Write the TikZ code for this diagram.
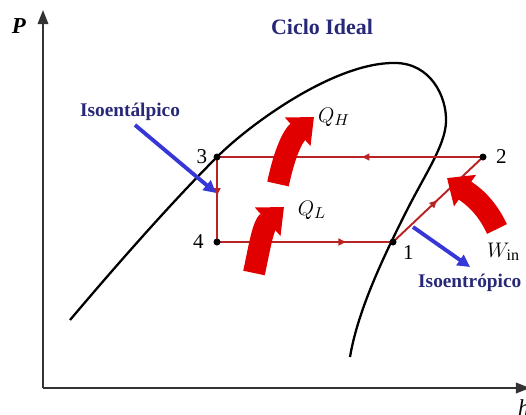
\documentclass[tikz,border=0pt]{standalone}
\usepackage{fontspec}
\setmainfont{Liberation Serif}
\usetikzlibrary{arrows.meta,decorations.markings}
\definecolor{cyclered}{RGB}{185,35,35}
\definecolor{heatred}{RGB}{225,0,0}
\definecolor{noteblue}{RGB}{55,55,215}
\definecolor{textnavy}{RGB}{40,40,120}
\tikzset{
  cycleline/.style={cyclered,line width=1.1pt},
  midarr/.style={postaction={decorate},decoration={markings,
    mark=at position #1 with {\arrow{Latex[length=5pt,width=4.5pt]}}}},
  heatarrow/.style={heatred,line width=0.44cm,-{Triangle[width=0.74cm,length=0.44cm]}},
  notearrow/.style={noteblue,line width=2.2pt,-{Triangle[width=7pt,length=7pt]}},
  notetext/.style={textnavy,font=\bfseries\fontsize{11}{13}\selectfont},
  ptlabel/.style={font=\fontsize{12}{14}\selectfont},
}
\begin{document}
\begin{tikzpicture}[x=0.02cm,y=0.02cm]
\useasboundingbox (0,0) rectangle (526,414);
\clip (0,0) rectangle (526,414);
% axes
\draw[line width=1pt,black!80,-{Triangle[width=6pt,length=8pt]}] (43,26) -- (43,404);
\draw[line width=1pt,black!80,-{Triangle[width=6pt,length=8pt]}] (43,26) -- (530,26);
\node at (19,388) {\fontsize{13}{15}\selectfont\textbf{\textit{P}}};
\node[anchor=west] at (512,6) {\fontsize{13}{15}\selectfont\textit{h}};
\node[textnavy] at (322,387) {\fontsize{12.5}{14}\selectfont\bfseries Ciclo Ideal};
% saturation dome
\draw[line width=1.3pt] (70,94) .. controls (130,165) and (180,220) .. (217,257)
  .. controls (250,290) and (335,352) .. (395,351)
  .. controls (430,351) and (447,318) .. (446,292)
  .. controls (445,268) and (425,240) .. (405,200)
  .. controls (385,160) and (358,105) .. (350,57);
% cycle points
\coordinate (p1) at (393,172);
\coordinate (p2) at (483,257);
\coordinate (p3) at (217,257);
\coordinate (p4) at (217,172);
\draw[cycleline,midarr=0.47] (p3) -- (p4);
\draw[cycleline,midarr=0.74] (p4) -- (p1);
\draw[cycleline,midarr=0.5] (p1) -- (p2);
\draw[cycleline,midarr=0.46] (p2) -- (p3);
\foreach \p in {p1,p2,p3,p4}
  \fill (\p) circle (3.5);
\node[ptlabel,anchor=south west] at ([shift={(4,-24)}]p1) {1};
\node[ptlabel,anchor=west] at ([xshift=4]p2) {2};
\node[ptlabel,anchor=east] at ([xshift=-2]p3) {3};
\node[ptlabel,anchor=east] at ([xshift=-4]p4) {4};
% heat and work
\draw[heatarrow] (278,230) to[out=78,in=222] (314,297);
\draw[heatarrow] (254,141) to[out=78,in=222] (284,207);
\draw[heatarrow] (497,185) to[out=115,in=-35] (447,236);
\node at (334,297) {\fontsize{13}{15}\selectfont$Q_H$};
\node at (312,204) {\fontsize{13}{15}\selectfont$Q_L$};
\node[anchor=west] at (481,162) {\fontsize{13}{15}\selectfont$W_{\mathrm{in}}$};
% process notes
\node[notetext] (isoh) at (130,302) {Isoentálpico};
\node[notetext,anchor=west] (isos) at (412,131) {Isoentrópico};
\draw[notearrow] (135,289) -- (216,221);
\draw[notearrow] (413,187) -- (470,147);
\end{tikzpicture}
\end{document}
